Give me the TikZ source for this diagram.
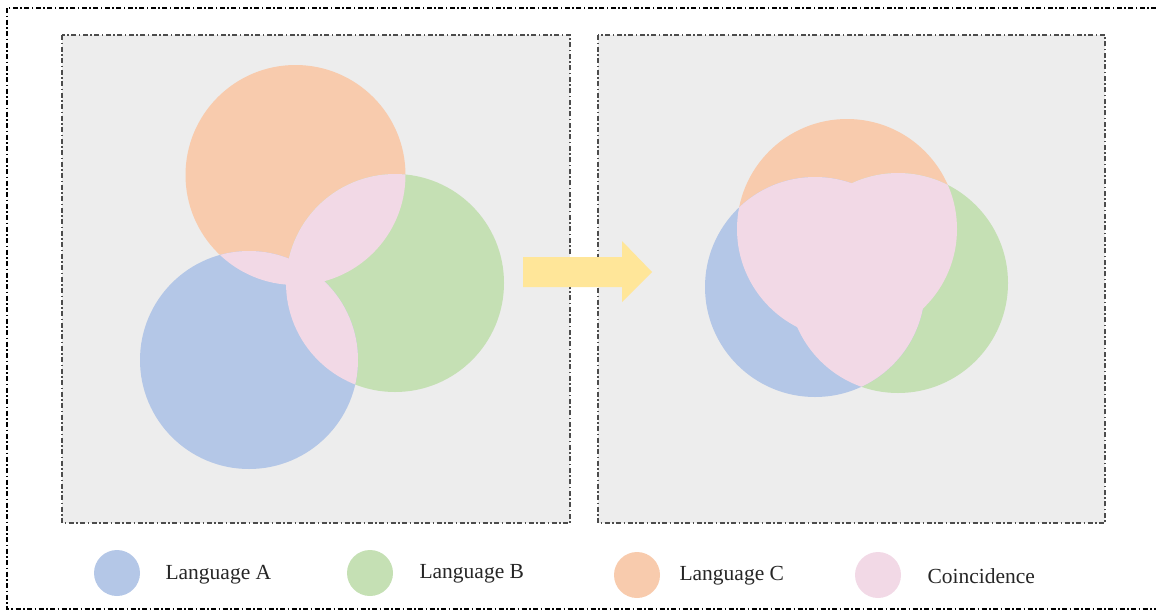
\documentclass[tikz,border=0pt]{standalone}
\usepackage{fontspec}
\setmainfont{Liberation Serif}
\definecolor{cA}{HTML}{B4C7E7}
\definecolor{cB}{HTML}{C5E0B4}
\definecolor{cC}{HTML}{F8CBAD}
\definecolor{cP}{HTML}{F2D9E6}
\definecolor{panelbg}{HTML}{EDEDED}
\definecolor{arrowc}{HTML}{FFE699}
\begin{document}
\begin{tikzpicture}[x=1pt,y=-1pt,
  dashdot/.style={dash pattern=on 5pt off 2.5pt on 1.5pt off 2.5pt, line width=1.1pt},
  panel/.style={dashdot, draw=black!70, fill=panelbg},
  legdot/.style={circle, minimum size=46pt, inner sep=0pt},
  legtext/.style={anchor=west, font=\fontsize{21.5}{24}\selectfont, text=black!85}]
\useasboundingbox (0,0) rectangle (1156,611);
% outer frame
\draw[dashdot, black] (7,8) rectangle (1165,609);
% panels
\draw[panel] (62,35) rectangle (570,523);
\draw[panel] (598,35) rectangle (1105,523);
% left venn
\def\Lcirc{(249,360) circle (109)}
\def\Bcirc{(395,283) circle (109)}
\def\Ccirc{(295.5,175) circle (110)}
\fill[cC] \Ccirc;
\fill[cB] \Bcirc;
\fill[cA] \Lcirc;
\begin{scope}\clip \Ccirc; \fill[cP] \Bcirc; \fill[cP] \Lcirc; \end{scope}
\begin{scope}\clip \Bcirc; \fill[cP] \Lcirc; \end{scope}
% right venn
\def\RA{(815,287) circle (110)}
\def\RB{(898,283) circle (110)}
\def\RC{(847,229) circle (110)}
\fill[cC] \RC;
\fill[cB] \RB;
\fill[cA] \RA;
\begin{scope}\clip \RC; \fill[cP] \RB; \fill[cP] \RA; \end{scope}
\begin{scope}\clip \RB; \fill[cP] \RA; \end{scope}
% arrow
\fill[arrowc] (523,257) -- (622,257) -- (622,241) -- (652,272) -- (622,302) -- (622,287) -- (523,287) -- cycle;
% legend
\node[legdot, fill=cA] (la) at (117,573) {};
\node[legtext] (ta) at (162,575) {Language A};
\node[legdot, fill=cB] (lb) at (370,573) {};
\node[legtext] (tb) at (416,574) {Language B};
\node[legdot, fill=cC] (lc) at (637,575) {};
\node[legtext] (tc) at (676,576) {Language C};
\node[legdot, fill=cP] (lp) at (878,575) {};
\node[legtext] (tp) at (924,576) {Coincidence};
\end{tikzpicture}
\end{document}
